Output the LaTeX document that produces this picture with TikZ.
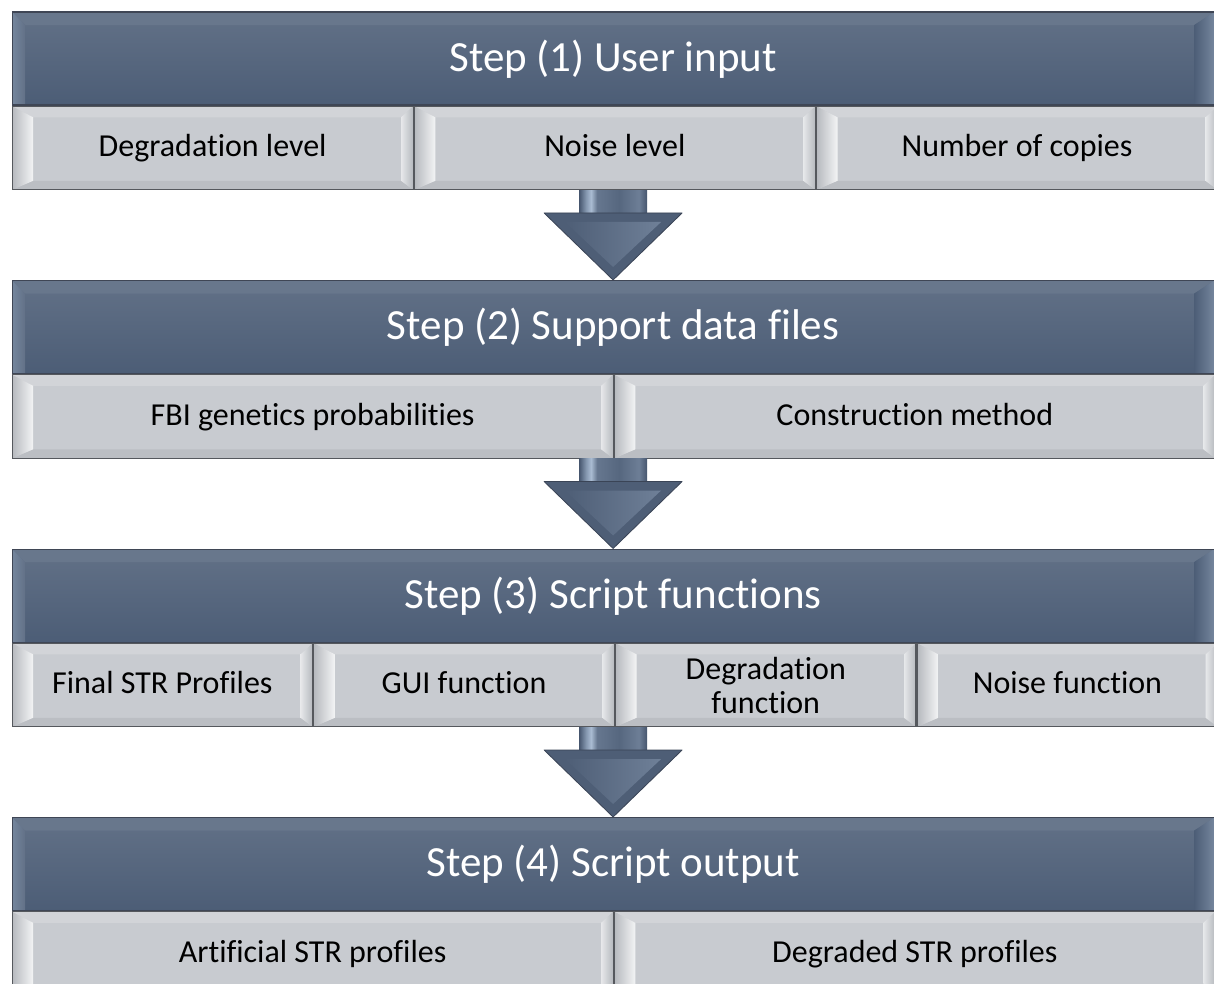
\documentclass[tikz,border=0pt]{standalone}
\usepackage{fontspec}
\setmainfont{Carlito}[Ligatures={NoCommon}]
\usetikzlibrary{calc}

% header bars
\definecolor{hdrTop}{HTML}{627187}
\definecolor{hdrBot}{HTML}{4C5D76}
\definecolor{hdrBand}{HTML}{68778C}
\definecolor{hdrGlow}{HTML}{B7CAE0}
\definecolor{hdrEdge}{HTML}{75869D}
\definecolor{hdrLine}{HTML}{3F4655}
% item boxes
\definecolor{subFace}{HTML}{C8CBD0}
\definecolor{subBand}{HTML}{D2D4D8}
\definecolor{subLow}{HTML}{BBBEC3}
\definecolor{subHi}{HTML}{F3F4F5}
\definecolor{subMid}{HTML}{B6B9BE}
\definecolor{subDark}{HTML}{A2A5AA}
\definecolor{subLine}{HTML}{55585D}
% arrows
\definecolor{arrFace}{HTML}{4E5E76}
\definecolor{arrLight}{HTML}{6F8098}
\definecolor{arrLine}{HTML}{3A4456}
\definecolor{shA}{HTML}{46566E}
\definecolor{shB}{HTML}{8396AE}
\definecolor{shC}{HTML}{AABCD2}
\definecolor{shD}{HTML}{66778F}
\definecolor{shE}{HTML}{56677F}
\definecolor{shF}{HTML}{6D7E96}

\pgfdeclarehorizontalshading{shaftshade}{100bp}{%
  color(0bp)=(shA); color(25bp)=(shA); color(30bp)=(shB); color(33.8bp)=(shC);
  color(38.2bp)=(shD); color(54.4bp)=(shE); color(69bp)=(shF);
  color(75bp)=(shA); color(100bp)=(shA)}

% corners of the current node, for the bevel facets
\newcommand\boxcorners{%
  \coordinate (nw) at (path picture bounding box.north west);
  \coordinate (ne) at (path picture bounding box.north east);
  \coordinate (sw) at (path picture bounding box.south west);
  \coordinate (se) at (path picture bounding box.south east);}

\tikzset{
  hdr/.style={draw=hdrLine, line width=1.2pt, inner sep=0pt, anchor=north west,
    minimum width=1202pt, minimum height=93pt,
    text height=32pt, text depth=7pt,
    top color=hdrTop, bottom color=hdrBot, text=white,
    font=\fontsize{43}{50}\selectfont,
    path picture={\boxcorners
      \fill[hdrBand] (nw) -- (ne) -- ($(ne)+(-20,13)$) -- ($(nw)+(13,13)$) -- cycle;
      \shade[left color=hdrEdge, middle color=hdrGlow, right color=hdrTop]
        (nw) -- ($(nw)+(13,13)$) -- ($(sw)+(13,0)$) -- (sw) -- cycle;
      \shade[left color=hdrBot, middle color=hdrGlow, right color=hdrEdge]
        (ne) -- ($(ne)+(-20,13)$) -- ($(se)+(-20,0)$) -- (se) -- cycle;
    }},
  itembox/.style={draw=subLine, line width=1.2pt, inner sep=0pt, anchor=north west,
    minimum height=83.5pt, fill=subFace, text=black, align=center,
    text height=23pt, text depth=6pt,
    font=\fontsize{32}{34}\selectfont,
    path picture={\boxcorners
      \fill[subBand] (nw) -- (ne) -- ($(ne)+(-12,11)$) -- ($(nw)+(21,11)$) -- cycle;
      \fill[subLow] (sw) -- (se) -- ($(se)+(-12,-9)$) -- ($(sw)+(21,-9)$) -- cycle;
      \shade[left color=subMid, right color=subHi]
        (nw) -- ($(nw)+(21,11)$) -- ($(sw)+(21,-9)$) -- (sw) -- cycle;
      \shade[left color=subHi!70!subFace, middle color=subDark, right color=subMid]
        (ne) -- ($(ne)+(-12,11)$) -- ($(se)+(-12,-9)$) -- (se) -- cycle;
    }},
  twoline/.style={text height=, text depth=},
  third/.style={itembox, minimum width=401pt},
  half/.style={itembox, minimum width=601pt},
  quarter/.style={itembox, minimum width=300.5pt},
}

% block arrow from the item row above down to the next header
\newcommand\flowarrow[2]{%
  \coordinate (tip) at (#2.north);
  \coordinate (top) at (tip |- #1.south);
  \shade[shading=shaftshade] ($(top)+(-34,0)$) rectangle ($(tip)+(34,-66)$);
  \fill[arrFace] ($(tip)+(-69,-67)$) -- ($(tip)+(69,-67)$) -- (tip) -- cycle;
  \shade[left color=arrFace, right color=arrLight]
    ($(tip)+(-48,-58)$) -- ($(tip)+(48,-58)$) -- ($(tip)+(0,-13)$) -- cycle;
  \draw[arrLine, line width=0.8pt, line join=round]
    ($(tip)+(-69,-67)$) -- ($(tip)+(69,-67)$) -- (tip) -- cycle;
}

\begin{document}
\begin{tikzpicture}[x=1pt, y=-1pt]
  \useasboundingbox (0,0) rectangle (1214,984);
  \fill[white] (0,0) rectangle (1214,984);

  % Step 1
  \node[hdr] (h1) at (11.5,11.5) {Step (1) User input};
  \node[third] (s11) at (h1.south west) {Degradation level};
  \node[third] (s12) at (s11.north east) {Noise level};
  \node[third] (s13) at (s12.north east) {Number of copies};

  % Step 2
  \node[hdr] (h2) at (11.5,280) {Step (2) Support data files};
  \node[half] (s21) at (h2.south west) {FBI genetics probabilities};
  \node[half] (s22) at (s21.north east) {Construction method};

  % Step 3
  \node[hdr] (h3) at (11.5,548.5) {Step (3) Script functions};
  \node[quarter] (s31) at (h3.south west) {Final STR Profiles};
  \node[quarter] (s32) at (s31.north east) {GUI function};
  \node[quarter, twoline] (s33) at (s32.north east) {Degradation\\function};
  \node[quarter] (s34) at (s33.north east) {Noise function};

  % Step 4
  \node[hdr] (h4) at (11.5,817) {Step (4) Script output};
  \node[half] (s41) at (h4.south west) {Artificial STR profiles};
  \node[half] (s42) at (s41.north east) {Degraded STR profiles};

  % arrows between the steps
  \flowarrow{s12}{h2}
  \flowarrow{s21}{h3}
  \flowarrow{s32}{h4}
\end{tikzpicture}
\end{document}
